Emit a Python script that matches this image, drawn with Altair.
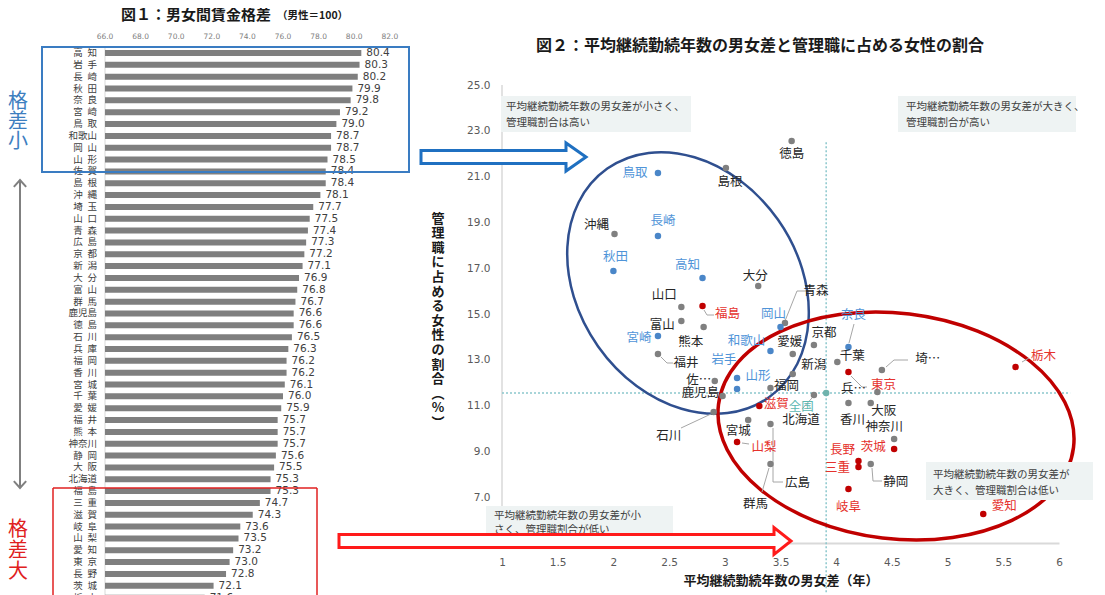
import altair as alt
import pandas as pd

CJK = "Noto Sans CJK JP"
NUM = "DejaVu Sans"

# ---------------- 図1 data ----------------
wage_pref = ["高知", "岩手", "長崎", "秋田", "奈良", "宮崎", "鳥取", "和歌山", "岡山", "山形",
             "佐賀", "島根", "沖縄", "埼玉", "山口", "青森", "広島", "京都", "新潟", "大分",
             "富山", "群馬", "鹿児島", "徳島", "石川", "兵庫", "福岡", "香川", "宮城", "千葉",
             "愛媛", "福井", "熊本", "神奈川", "静岡", "大阪", "北海道", "福島", "三重", "滋賀",
             "岐阜", "山梨", "愛知", "東京", "長野", "茨城", "栃木"]
wage_value = [80.4, 80.3, 80.2, 79.9, 79.8, 79.2, 79.0, 78.7, 78.7, 78.5,
              78.4, 78.4, 78.1, 77.7, 77.5, 77.4, 77.3, 77.2, 77.1, 76.9,
              76.8, 76.7, 76.6, 76.6, 76.5, 76.3, 76.2, 76.2, 76.1, 76.0,
              75.9, 75.7, 75.7, 75.7, 75.6, 75.5, 75.3, 75.3, 74.7, 74.3,
              73.6, 73.5, 73.2, 73.0, 72.8, 72.1, 71.6]
wage_ticks = [66, 68, 70, 72, 74, 76, 78, 80, 82]

# ---------------- 図2 data ----------------
sc_pref = ["徳島", "島根", "鳥取", "沖縄", "長崎", "秋田", "高知", "大分", "青森", "山口",
           "福島", "岡山", "富山", "熊本", "宮崎", "和歌山", "愛媛", "京都", "奈良", "千葉",
           "福井", "岩手", "山形", "新潟", "佐賀", "鹿児島", "福岡", "埼玉", "東京", "栃木",
           "兵庫", "北海道", "滋賀", "香川", "大阪", "石川", "宮城", "広島", "神奈川", "山梨",
           "茨城", "長野", "静岡", "三重", "群馬", "岐阜", "愛知"]
sc_tenure = [3.60, 3.01, 2.40, 2.01, 2.40, 2.00, 2.80, 3.30, 3.54, 2.61,
             2.80, 3.50, 2.61, 2.81, 2.40, 3.41, 3.61, 3.80, 4.11, 4.01,
             2.40, 3.11, 3.11, 3.61, 2.91, 2.98, 3.41, 4.41, 4.11, 5.61,
             4.37, 3.80, 3.31, 4.11, 4.31, 2.90, 3.21, 3.41, 4.52, 3.11,
             4.52, 4.20, 4.31, 4.20, 3.41, 4.11, 5.32]
sc_share = [22.55, 21.38, 21.16, 18.49, 18.41, 16.88, 16.57, 16.22, 14.61, 15.31,
            15.35, 14.43, 14.69, 14.43, 14.04, 13.38, 13.25, 13.65, 13.56, 12.90,
            13.25, 11.72, 12.21, 12.38, 12.07, 11.42, 11.77, 12.55, 12.47, 12.69,
            11.59, 11.46, 10.98, 11.11, 11.11, 10.72, 10.37, 10.20, 9.54, 9.41,
            9.10, 8.58, 8.45, 8.32, 8.45, 7.36, 6.27]
national_name = "全国"
national_tenure = 3.91
national_share = 11.55
x_ticks = [1, 1.5, 2, 2.5, 3, 3.5, 4, 4.5, 5, 5.5, 6]
y_ticks = [7, 9, 11, 13, 15, 17, 19, 21, 23, 25]

# label placement (pixel offsets from the point) and shortened labels
LBL = {
    "徳島": (0, 13), "島根": (4, 14), "鳥取": (-23, 0), "沖縄": (-18, -9), "長崎": (5, -15),
    "秋田": (2, -14), "高知": (-15, -13), "大分": (-3, -10), "青森": (31, -32), "山口": (-17, -12),
    "福島": (25, 8), "岡山": (-7, -13), "富山": (-19, 4), "熊本": (-13, 15), "宮崎": (-19, 2),
    "和歌山": (-24, -10), "愛媛": (-3, -12), "京都": (10, -12), "奈良": (5, -32), "千葉": (15, -6),
    "福井": (28, 9), "岩手": (-13, -29), "山形": (21, -2), "新潟": (21, -9), "佐賀": (-16, -1),
    "鹿児島": (-22, -3), "福岡": (16, -2), "埼玉": (46, -11), "東京": (35, 13), "栃木": (28, -11),
    "兵庫": (-24, -3), "北海道": (-13, 25), "滋賀": (17, -2), "香川": (4, 17), "大阪": (13, 8),
    "石川": (-45, 24), "宮城": (-10, 11), "広島": (27, 59), "神奈川": (-10, -12), "山梨": (27, 5),
    "茨城": (-21, -2), "長野": (-16, -11), "静岡": (25, 18), "三重": (-21, 1), "群馬": (-15, 40),
    "岐阜": (0, 18), "愛知": (21, -8), "全国": (-25, 14),
}
DISP = {"佐賀": "佐…", "埼玉": "埼…", "兵庫": "兵…"}

# leader lines (page pixel waypoints between label and point)
LEADERS = {
    "青森": [(806, 291), (796, 291), (784, 321)],
    "福島": [(703, 310), (706, 315), (713, 315)],
    "奈良": [(853, 324), (848, 343)],
    "東京": [(850, 376), (861, 387), (866, 387)],
    "埼玉": [(885, 367), (893, 360), (907, 360)],
    "福井": [(660, 357), (666, 363), (672, 363)],
    "北海道": [(801, 409), (811, 398)],
    "石川": [(680, 428), (710, 414)],
    "広島": [(772, 428), (772, 482), (782, 482)],
    "群馬": [(768, 468), (761, 492)],
    "静岡": [(871, 468), (872, 481), (881, 481)],
    "山梨": [(741, 443), (748, 444)],
    "栃木": [(1021, 362), (1028, 358)],
}

ONE = pd.DataFrame({"k": [0]})


def txt(text, x, y, **kw):
    return alt.Chart(ONE).mark_text(text=text, **kw).encode(x=alt.value(x), y=alt.value(y))


def rule(x, y, x2=None, y2=None, **kw):
    enc = {"x": alt.value(x), "y": alt.value(y)}
    if x2 is not None:
        enc["x2"] = alt.value(x2)
    if y2 is not None:
        enc["y2"] = alt.value(y2)
    return alt.Chart(ONE).mark_rule(**kw).encode(**enc)


def box(x, y, x2, y2, **kw):
    return alt.Chart(ONE).mark_rect(**kw).encode(
        x=alt.value(x), x2=alt.value(x2), y=alt.value(y), y2=alt.value(y2))


def shape(path, size, x, y, **kw):
    return alt.Chart(ONE).mark_point(shape=path, size=size, opacity=1, **kw).encode(
        x=alt.value(x), y=alt.value(y))


def ellipse_path(ratio):
    k = 0.5523
    r = ratio
    return (f"M -1 0 C -1 {-k*r:.4f} {-k:.4f} {-r:.4f} 0 {-r:.4f} "
            f"C {k:.4f} {-r:.4f} 1 {-k*r:.4f} 1 0 "
            f"C 1 {k*r:.4f} {k:.4f} {r:.4f} 0 {r:.4f} "
            f"C {-k:.4f} {r:.4f} -1 {k*r:.4f} -1 0 Z")


def block_arrow(half_len, shaft_half, head_half, head_len):
    s = shaft_half / half_len
    h = head_half / half_len
    hx = 1 - head_len / half_len
    return (f"M -1 {-s:.4f} L {hx:.4f} {-s:.4f} L {hx:.4f} {-h:.4f} L 1 0 "
            f"L {hx:.4f} {h:.4f} L {hx:.4f} {s:.4f} L -1 {s:.4f} Z")


# =============== LEFT PANEL (図1) ===============
LW, LH = 493, 587


def lx(px):
    return px - 8


def ly(py):
    return py - 8


X66 = lx(104)
PXU = 17.8
xs_l = alt.Scale(domain=[66 - X66 / PXU, 66 + (LW - X66) / PXU], nice=False, zero=False, padding=0)
ROW1 = ly(53)
ROWS = 11.84
ys_l = alt.Scale(domain=[1 - ROW1 / ROWS, 1 + (LH - ROW1) / ROWS], reverse=True, nice=False,
                 zero=False, padding=0)

wdf = pd.DataFrame({"pref": wage_pref, "v": wage_value})
wdf["row"] = list(range(1, len(wdf) + 1))
wdf["label"] = [p if len(p) > 2 else p[0] + "\u2002" + p[1] for p in wage_pref]
wdf["base"] = 66

Yl = alt.Y("row:Q", scale=ys_l, axis=None)

bars = alt.Chart(wdf).mark_bar(size=6, color="#7f7f7f", clip=True, orient="horizontal").encode(
    x=alt.X("v:Q", scale=xs_l, axis=None), x2="base:Q", y=Yl)
names = alt.Chart(wdf).mark_text(align="right", baseline="middle", font=CJK, fontSize=9.5,
                                 color="#404040", clip=True).encode(
    x=alt.value(lx(96)), y=Yl, text="label:N")
vals = alt.Chart(wdf).mark_text(align="left", baseline="middle", dx=5, font=NUM, fontSize=10.5,
                                color="#404040", clip=True).encode(
    x=alt.X("v:Q", scale=xs_l, axis=None), y=Yl, text=alt.Text("v:Q", format=".1f"))
tdf = pd.DataFrame({"t": wage_ticks})
ticks_l = alt.Chart(tdf).mark_text(font=NUM, fontSize=7.5, color="#808080", baseline="middle").encode(
    x=alt.X("t:Q", scale=xs_l, axis=None), y=alt.value(ly(37)), text=alt.Text("t:Q", format=".1f"))
grid66 = alt.Chart(pd.DataFrame({"g": [wage_ticks[0]]})).mark_rule(color="#d9d9d9", strokeWidth=1).encode(
    x=alt.X("g:Q", scale=xs_l, axis=None), y=alt.value(ly(47)), y2=alt.value(LH))

title_l = txt("図１：男女間賃金格差", lx(120), ly(15), align="left", baseline="middle",
              font=CJK, fontSize=15, fontWeight="bold", color="#1a1a1a")
sub_l = txt("（男性＝100）", lx(276), ly(16), align="left", baseline="middle",
            font=CJK, fontSize=10.5, fontWeight="bold", color="#1a1a1a")

blue_rect = box(lx(41), ly(47), lx(408), ly(172), fillOpacity=0, stroke="#3a7cc2", strokeWidth=2)
red_top = rule(lx(52), ly(488), x2=lx(316), color="#e02020", strokeWidth=1.5)
red_l = rule(lx(52), ly(488), y2=LH, color="#e02020", strokeWidth=1.5)
red_r = rule(lx(316), ly(488), y2=LH, color="#e02020", strokeWidth=1.5)

small_txt = txt("格\n差\n小", lx(17), ly(100) - 8, lineBreak="\n", lineHeight=20, align="center",
                baseline="top", font=CJK, fontSize=20, color="#3d7ebf")
big_txt = txt("格\n差\n大", lx(17), ly(528) - 8, lineBreak="\n", lineHeight=21, align="center",
              baseline="top", font=CJK, fontSize=20, color="#e02020")

gray_arrow = shape("M 0 -1 L 0 1 M -0.04 -0.955 L 0 -1 L 0.04 -0.955 M -0.04 0.955 L 0 1 L 0.04 0.955",
                   308 ** 2, lx(19), ly(334), filled=False, color="#808080", strokeWidth=2)

left = alt.layer(grid66, bars, names, vals, ticks_l, title_l, sub_l, blue_rect, red_top, red_l, red_r,
                 small_txt, big_txt, gray_arrow).properties(width=LW, height=LH)

# =============== RIGHT PANEL (図2) ===============
RW, RH = 557, 535


def rx(px):
    return px - 501


def ry(py):
    return py - 8


Y25 = ry(85)
YU = (RH - Y25) / 20.0
XU = RW / 5.0
xs_r = alt.Scale(domain=[1, 6], nice=False, zero=False)
ys_r = alt.Scale(domain=[5, 25 + Y25 / YU], nice=False, zero=False)
AX_X = alt.Axis(values=x_ticks, format="~g", title=None, grid=False, ticks=False, domain=True,
                domainColor="#d9d9d9", domainWidth=2, labelFont=NUM, labelFontSize=10.5,
                labelColor="#595959", labelPadding=14, labelFlush=False, labelOverlap=False)
AX_Y = alt.Axis(values=y_ticks, format=".1f", title=None, grid=False, ticks=False, domain=False,
                labelFont=NUM, labelFontSize=10.5, labelColor="#595959", labelPadding=12,
                labelOverlap=False)


def to_x(px):
    return 1 + (px - 501) / XU


def to_y(py):
    return 25 - (py - 85) / YU


blue_set = set(wage_pref[:10])
red_set = set(wage_pref[-10:])

names_all = sc_pref + [national_name]
sdf = pd.DataFrame({"pref": names_all, "x": sc_tenure + [national_tenure], "y": sc_share + [national_share]})


def cat(p):
    if p == national_name:
        return "nat"
    if p in blue_set:
        return "blue"
    if p in red_set:
        return "red"
    return "gray"


PCOL = {"gray": "#808080", "blue": "#4a86c8", "red": "#c00000", "nat": "#6fb3ad"}
LCOL = {"gray": "#262626", "blue": "#4f94d8", "red": "#e5322d", "nat": "#5cb8b2"}
sdf["cat"] = [cat(p) for p in names_all]
sdf["pcol"] = [PCOL[c] for c in sdf["cat"]]
sdf["lcol"] = [LCOL[c] for c in sdf["cat"]]
sdf["disp"] = [DISP.get(p, p) for p in names_all]
sdf["lx"] = [x + LBL[p][0] / XU for p, x in zip(names_all, sdf["x"])]
sdf["ly"] = [y - LBL[p][1] / YU for p, y in zip(names_all, sdf["y"])]

Xr = alt.X("x:Q", scale=xs_r, axis=AX_X)
Yr = alt.Y("y:Q", scale=ys_r, axis=AX_Y)

pts = alt.Chart(sdf).mark_circle(size=42, opacity=1).encode(
    x=Xr, y=Yr, color=alt.Color("pcol:N", scale=None))
lbls = alt.Chart(sdf).mark_text(font=CJK, fontSize=12.5, align="center", baseline="middle").encode(
    x=alt.X("lx:Q", scale=xs_r, axis=AX_X), y=alt.Y("ly:Q", scale=ys_r, axis=AX_Y),
    text="disp:N", color=alt.Color("lcol:N", scale=None))

lrows = []
for name, wps in LEADERS.items():
    for i, (px, py) in enumerate(wps):
        lrows.append({"g": name, "o": i, "x": to_x(px), "y": to_y(py)})
leaders = alt.Chart(pd.DataFrame(lrows)).mark_line(color="#a6a6a6", strokeWidth=1).encode(
    x=Xr, y=Yr, detail="g:N", order="o:Q")

vline = alt.Chart(pd.DataFrame({"x": [national_tenure], "y": [22.5], "y2": [2.85]})).mark_rule(
    color="#8cc7cd", strokeWidth=1.5, strokeDash=[2, 2]).encode(x=Xr, y=Yr, y2="y2:Q")
hline = alt.Chart(pd.DataFrame({"x": [1.0], "x2": [6.1], "y": [national_share]})).mark_rule(
    color="#8cc7cd", strokeWidth=1.5, strokeDash=[2, 2]).encode(x=Xr, x2="x2:Q", y=Yr)
yaxis_line = alt.Chart(pd.DataFrame({"x": [1.0], "y": [5.0], "y2": [25.0]})).mark_rule(
    color="#d9d9d9", strokeWidth=1.5).encode(x=Xr, y=Yr, y2="y2:Q")

ANNO_FILL = "#eef3f3"
annos = []
for (x1, y1, x2, y2, tx, tyc, lh, t) in [
    (500, 96, 690, 132, 505, 106, 16, "平均継続勤続年数の男女差が小さく、\n管理職割合は高い"),
    (897, 96, 1075, 132, 905, 106, 16, "平均継続勤続年数の男女差が大きく、\n管理職割合が高い"),
    (925, 462, 1092, 500, 932, 474, 16, "平均継続勤続年数の男女差が\n大きく、管理職割合は低い"),
    (485, 506, 672, 537, 493, 515, 14, "平均継続勤続年数の男女差が小\nさく、管理職割合が低い"),
]:
    annos.append(box(rx(x1), ry(y1), rx(x2), ry(y2), color=ANNO_FILL))
    annos.append(txt(t, rx(tx), ry(tyc) - 4.3, lineBreak="\n", lineHeight=lh, align="left",
                     baseline="top", font=CJK, fontSize=10.5, color="#404040"))

blue_ell = shape(ellipse_path(110 / 140), (2 * 140) ** 2, rx(687), ry(283), angle=54.8,
                 filled=False, color="#2f4f8f", strokeWidth=2.5)
red_ell = shape(ellipse_path(112.8 / 178.8), (2 * 178.8) ** 2, rx(895), ry(426), angle=6.9,
                filled=False, color="#c00000", strokeWidth=3.5)

blue_arrow = shape(block_arrow(82.5, 6.5, 14, 20), 165 ** 2, rx(502.5), ry(157),
                   filled=True, fill="white", stroke="#1f70c1", strokeWidth=3)
red_arrow = shape(block_arrow(226, 6.5, 13.5, 17), 452 ** 2, rx(564), ry(541),
                  filled=True, fill="white", stroke="#ff1a1a", strokeWidth=3)

title_r = txt("図２：平均継続勤続年数の男女差と管理職に占める女性の割合", rx(759), ry(46),
              align="center", baseline="middle", font=CJK, fontSize=16, fontWeight="bold",
              color="#1a1a1a")
xtitle = txt("平均継続勤続年数の男女差（年）", rx(780), ry(581), align="center", baseline="middle",
             font=CJK, fontSize=13, fontWeight="bold", color="#1a1a1a")
ytitle = txt("\n".join(list("管理職に占める女性の割合") + ["︵", "%", "︶"]), rx(437), ry(218) - 5.3,
             lineBreak="\n", lineHeight=14.6, align="center", baseline="top", font=CJK,
             fontSize=13, fontWeight="bold", color="#1a1a1a")

right = alt.layer(yaxis_line, hline, vline, blue_ell, red_ell, *annos, leaders, pts, lbls,
                  blue_arrow, red_arrow, title_r, xtitle, ytitle).properties(width=RW, height=RH)

chart = alt.hconcat(left, right, spacing=0, bounds="flush").properties(
    padding=0, background="white").configure_view(stroke=None)

chart.save("out.html", embed_options={"renderer": "svg", "actions": False})
